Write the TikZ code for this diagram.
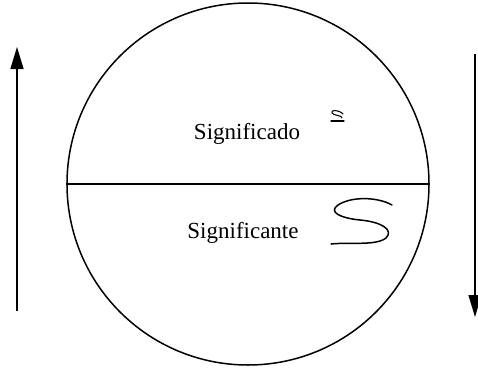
\documentclass[tikz,border=0pt]{standalone}
\usepackage{fontspec}
\setmainfont{Liberation Serif}
\usetikzlibrary{arrows.meta}
\begin{document}
\begin{tikzpicture}[x=1pt,y=-1pt,
  ring/.style={draw,circle,line width=1.5pt,minimum size=362pt,inner sep=0pt},
  lbl/.style={font=\fontsize{23}{26}\selectfont,inner sep=0pt,anchor=base},
  vec/.style={line width=1.5pt,-{Triangle[length=22pt,width=13pt]}},
  hand/.style={line width=1.5pt,line cap=round,line join=round}]
\useasboundingbox (0,0) rectangle (478,369);
\node[ring] (c) at (248,184) {};
\draw[line width=1.5pt] (c.west) -- (c.east);
\node[lbl] (sdo) at (247,139) {Significado};
\node[lbl] (ste) at (243,238) {Significante};
% small handwritten s
\draw[hand,line width=1.1pt] (343,114) .. controls (338,109) and (330,110) .. (332,113)
  .. controls (334,116) and (342,115) .. (342,118);
\draw[hand,line width=1.1pt] (331,121) -- (344,121);
% big handwritten S
\draw[hand] (392,205) .. controls (378,197) and (352,196) .. (338,205)
  .. controls (328,212) and (340,218) .. (360,220)
  .. controls (382,222) and (394,230) .. (386,238)
  .. controls (376,246) and (350,242) .. (331,244);
% arrows
\coordinate (la) at (17,311);
\coordinate (lb) at (17,47);
\coordinate (ra) at (475,54);
\coordinate (rb) at (475,317);
\draw[vec] (la) -- (lb);
\draw[vec] (ra) -- (rb);
\end{tikzpicture}
\end{document}
